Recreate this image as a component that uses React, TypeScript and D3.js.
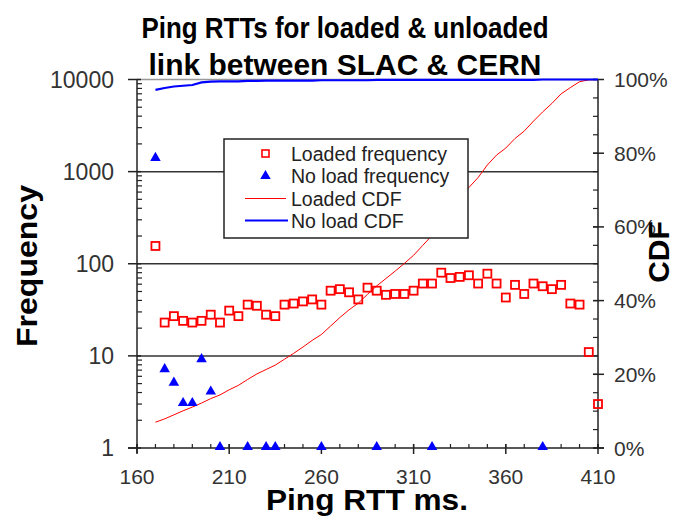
import React from "react";
import * as d3 from "d3";

const rtt = [170, 175, 180, 185, 190, 195, 200, 205, 210, 215, 220, 225, 230, 235, 240, 245, 250, 255, 260, 265, 270, 275, 280, 285, 290, 295, 300, 305, 310, 315, 320, 325, 330, 335, 340, 345, 350, 355, 360, 365, 370, 375, 380, 385, 390, 395, 400, 405, 410];
const loadedFreq = [156, 23, 27, 24, 23, 24, 28, 23, 31, 27, 36, 35, 28, 27, 36, 37, 39, 41, 36, 51, 53, 49, 41, 55, 51, 46, 47, 47, 51, 61, 61, 80, 70, 72, 75, 61, 78, 61, 43, 59, 47, 61, 57, 53, 59, 37, 36, 11, 3];
const noLoadFreq = [1373, 7, 5, 3, 3, 9, 4, 1, 0, 0, 1, 0, 1, 1, 0, 0, 0, 0, 1, 0, 0, 0, 0, 0, 1, 0, 0, 0, 0, 0, 1, 0, 0, 0, 0, 0, 0, 0, 0, 0, 0, 0, 1, 0, 0, 0, 0, 0, 0];
const loadedCdf = [7.0, 7.9, 9.0, 10.1, 11.1, 12.2, 13.4, 14.4, 15.8, 17.0, 18.6, 20.1, 21.3, 22.5, 24.1, 25.7, 27.4, 29.2, 30.8, 33.1, 35.4, 37.5, 39.3, 41.7, 44.0, 46.0, 48.0, 50.1, 52.3, 55.0, 57.7, 61.2, 64.3, 67.4, 70.7, 73.4, 76.8, 79.5, 81.4, 84.0, 86.0, 88.7, 91.2, 93.5, 96.1, 97.8, 99.4, 99.9, 100];
const noLoadCdf = [97.2, 97.7, 98.1, 98.3, 98.5, 99.2, 99.4, 99.5, 99.5, 99.5, 99.6, 99.6, 99.7, 99.7, 99.7, 99.7, 99.7, 99.7, 99.8, 99.8, 99.8, 99.8, 99.8, 99.8, 99.9, 99.9, 99.9, 99.9, 99.9, 99.9, 99.9, 99.9, 99.9, 99.9, 99.9, 99.9, 99.9, 99.9, 99.9, 99.9, 99.9, 99.9, 100, 100, 100, 100, 100, 100, 100];

const xTicks = [160, 210, 260, 310, 360, 410];
const yLeftTicks = [1, 10, 100, 1000, 10000];
const yRightTicks = [0, 20, 40, 60, 80, 100];
const titleLines = ["Ping RTTs for loaded & unloaded", "link between SLAC & CERN"];
const legendItems = ["Loaded frequency", "No load frequency", "Loaded CDF", "No load CDF"];

const FONT = "'Liberation Sans', Arial, sans-serif";
const AX = "#222";

export default function App() {
  const L = 137, R = 598, T = 79.5, B = 448;
  const x = d3.scaleLinear().domain([160, 410]).range([L, R]);
  const y = d3.scaleLog().domain([1, 10000]).range([B, T]);
  const yr = d3.scaleLinear().domain([0, 100]).range([B, T]);

  const xMinor = d3.range(160, 411, 10);
  const yMinor: number[] = [];
  [1, 10, 100, 1000].forEach((d) => { for (let k = 2; k <= 9; k++) yMinor.push(d * k); });
  const rMinor = d3.range(0, 101, 5);

  const lineL = d3.line<number>().x((_, i) => x(rtt[i])).y((d) => yr(d));
  const tri = d3.symbol().type(d3.symbolTriangle).size(48)();

  const legX = 224, legY = 139, legW = 244, legH = 99;
  const rowY = [153.5, 176, 198.5, 220.5];
  const titleLen = [407, 393];

  return (
    <svg width={683} height={519} style={{ position: "absolute", left: 0, top: 0, background: "#fff" }} fontFamily={FONT}>
      <rect x={0} y={0} width={683} height={519} fill="#fff" />
      {/* gridlines */}
      {yLeftTicks.slice(1).map((t) => (
        <line key={"g" + t} x1={L} x2={R} y1={y(t)} y2={y(t)} stroke={t === 10000 ? "#999" : "#333"} strokeWidth={1.5} />
      ))}
      {/* left axis */}
      <line x1={L} x2={L} y1={T} y2={B + 5} stroke={AX} strokeWidth={1.5} />
      {yLeftTicks.map((t) => (
        <g key={"yl" + t}>
          <line x1={L - 9} x2={L + 4} y1={y(t)} y2={y(t)} stroke={AX} strokeWidth={1.5} />
          <text x={114} y={y(t)} dy="0.36em" textAnchor="end" fontSize={23} fill="#333">{t}</text>
        </g>
      ))}
      {yMinor.map((t) => (
        <line key={"ym" + t} x1={L} x2={L + 5} y1={y(t)} y2={y(t)} stroke={AX} strokeWidth={1.2} />
      ))}
      {/* right axis */}
      <line x1={R} x2={R} y1={T} y2={B} stroke={AX} strokeWidth={1.5} />
      {yRightTicks.map((t) => (
        <g key={"yr" + t}>
          <line x1={R - 5} x2={R + 6} y1={yr(t)} y2={yr(t)} stroke={AX} strokeWidth={1.5} />
          <text x={614} y={yr(t)} dy="0.36em" textAnchor="start" fontSize={21} fill="#333">{t + "%"}</text>
        </g>
      ))}
      {rMinor.map((t) => (
        <line key={"rm" + t} x1={R - 5} x2={R} y1={yr(t)} y2={yr(t)} stroke={AX} strokeWidth={1.2} />
      ))}
      {/* bottom axis */}
      <line x1={L - 9} x2={R + 6} y1={B} y2={B} stroke={AX} strokeWidth={1.5} />
      {xMinor.map((t) => (
        <line key={"xm" + t} x1={x(t)} x2={x(t)} y1={B - 4} y2={B} stroke={AX} strokeWidth={1.2} />
      ))}
      {xTicks.map((t) => (
        <g key={"xt" + t}>
          <line x1={x(t)} x2={x(t)} y1={B - 4} y2={B + 6} stroke={AX} strokeWidth={1.5} />
          <text x={x(t)} y={484} textAnchor="middle" fontSize={21} fill="#333">{t}</text>
        </g>
      ))}
      {/* CDF lines */}
      <path d={lineL(loadedCdf) || ""} fill="none" stroke="#ff0000" strokeWidth={1} />
      <path d={lineL(noLoadCdf) || ""} fill="none" stroke="#0000ff" strokeWidth={2.2} />
      {/* loaded frequency squares */}
      {loadedFreq.map((v, i) => (
        <rect key={"s" + i} x={x(rtt[i]) - 4} y={y(v) - 4} width={8} height={8} fill="none" stroke="#ff0000" strokeWidth={1.8} />
      ))}
      {/* no load triangles */}
      {noLoadFreq.map((v, i) => v > 0 ? (
        <path key={"t" + i} d={tri || ""} transform={`translate(${x(rtt[i])},${y(v) - 1})`} fill="#0000ff" />
      ) : null)}
      {/* legend */}
      <rect x={legX} y={legY} width={legW} height={legH} fill="#fff" stroke="#222" strokeWidth={1.5} />
      <rect x={262} y={rowY[0] - 3.5} width={7} height={7} fill="none" stroke="#ff0000" strokeWidth={1.6} />
      <path d={tri || ""} transform={`translate(265.5,${rowY[1]})`} fill="#0000ff" />
      <line x1={245} x2={286} y1={rowY[2]} y2={rowY[2]} stroke="#ff0000" strokeWidth={1} />
      <line x1={245} x2={288} y1={rowY[3]} y2={rowY[3]} stroke="#0000ff" strokeWidth={2.2} />
      {legendItems.map((s, i) => (
        <text key={"l" + i} x={291} y={rowY[i]} dy="0.36em" fontSize={19.5} fill="#222">{s}</text>
      ))}
      {/* titles */}
      {titleLines.map((s, i) => (
        <text key={"tt" + i} x={345} y={38 + i * 37} textAnchor="middle" fontSize={30} fontWeight="bold" fill="#000"
          textLength={titleLen[i]} lengthAdjust="spacingAndGlyphs">{s}</text>
      ))}
      <text transform="translate(37,266) rotate(-90)" textAnchor="middle" fontSize={30} fontWeight="bold" fill="#000"
        textLength={162} lengthAdjust="spacingAndGlyphs">Frequency</text>
      <text transform="translate(669,252) rotate(-90)" textAnchor="middle" fontSize={30} fontWeight="bold" fill="#000">CDF</text>
      <text x={367} y={510} textAnchor="middle" fontSize={30} fontWeight="bold" fill="#000"
        textLength={202} lengthAdjust="spacingAndGlyphs">Ping RTT ms.</text>
    </svg>
  );
}
